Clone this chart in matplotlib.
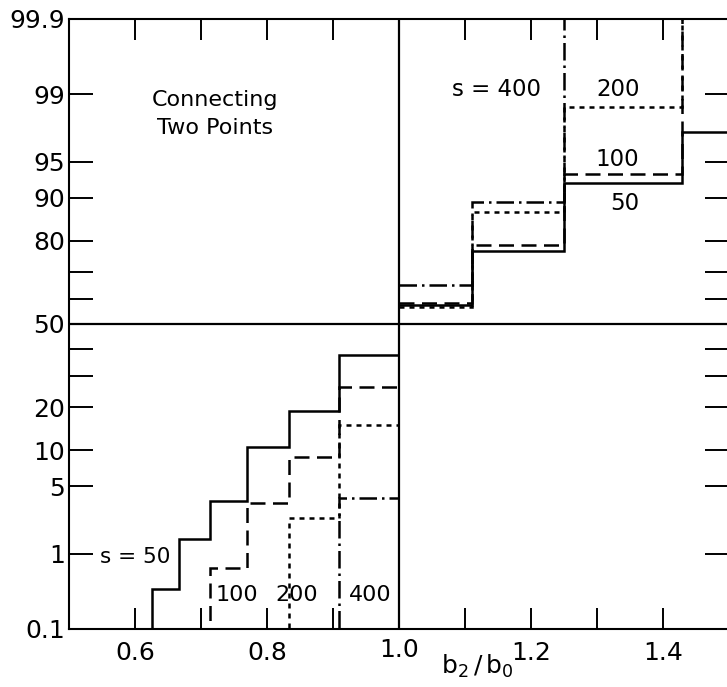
import math
import numpy as np
import matplotlib
matplotlib.use('Agg')
import matplotlib.pyplot as plt
from matplotlib.ticker import FixedLocator, FixedFormatter, NullLocator

plt.rcParams['font.family'] = ['DejaVu Sans']
plt.rcParams['mathtext.default'] = 'regular'

# bin edges in b2/b0 (below and above 1.0)
edges_lo = [0.5, 0.625, 0.667, 0.714, 0.769, 0.833, 0.909, 1.0]
edges_hi = [1.0, 1.111, 1.25, 1.429, 1.5]

# cumulative percentages (0.01 / 99.99 = off scale)
s50_lo = [0.01, 0.36, 1.47, 3.65, 10.6, 18.9, 37.7]
s100_lo = [0.01, 0.01, 0.01, 0.67, 3.5, 8.9, 26.1]
s200_lo = [0.01, 0.01, 0.01, 0.01, 0.01, 2.47, 15.3]
s400_lo = [0.01, 0.01, 0.01, 0.01, 0.01, 0.01, 3.9]

s50_hi = [57.5, 77.0, 92.3, 97.4]
s100_hi = [58.5, 78.8, 93.6, 99.99]
s200_hi = [56.8, 87.2, 98.6, 99.99]
s400_hi = [65.4, 89.2, 99.99, 99.99]

yticks = [0.1, 1, 5, 10, 20, 30, 40, 50, 60, 70, 80, 90, 95, 99, 99.9]
ylabels = ['0.1', '1', '5', '10', '20', '', '', '50', '', '', '80', '90', '95', '99', '99.9']
xticks = [0.6, 0.7, 0.8, 0.9, 1.1, 1.2, 1.3, 1.4]
xlabels = ['0.6', '', '0.8', '', '', '1.2', '', '1.4']

# normal probability scale
_erf = np.vectorize(math.erf, otypes=[float])

def from_z(z):
    z = np.asarray(z, float)
    return 50.0 * (1 + _erf(z / math.sqrt(2)))

def to_z(p):
    q = np.clip(np.asarray(p, float), 1e-7, 100 - 1e-7)
    lo = np.full_like(q, -8.0)
    hi = np.full_like(q, 8.0)
    for _ in range(55):
        mid = (lo + hi) / 2
        below = from_z(mid) < q
        lo = np.where(below, mid, lo)
        hi = np.where(below, hi, mid)
    return (lo + hi) / 2

fig = plt.figure(figsize=(7.27, 6.87), dpi=100)
ax = fig.add_axes([69/727, 1 - 629/687, 660/727, 610/687])
ax.set_yscale('function', functions=(to_z, from_z))
ax.set_xlim(0.5, 1.5)
ax.set_ylim(0.1, 99.9)

lw = 1.8
styles = {
    50: dict(linestyle='-'),
    100: dict(linestyle=(0, (6, 3))),
    200: dict(linestyle=(0, (2, 2))),
    400: dict(linestyle=(0, (7, 2, 1, 2))),
}
for s, lo, hi in [(50, s50_lo, s50_hi), (100, s100_lo, s100_hi),
                  (200, s200_lo, s200_hi), (400, s400_lo, s400_hi)]:
    ax.stairs(lo, edges_lo, baseline=None, color='black', lw=lw, **styles[s])
    ax.stairs(hi, edges_hi, baseline=None, color='black', lw=lw, **styles[s])

ax.axhline(50, color='black', lw=1.6)
ax.axvline(1.0, color='black', lw=1.6)

ax.yaxis.set_major_locator(FixedLocator(yticks))
ax.yaxis.set_major_formatter(FixedFormatter(ylabels))
ax.yaxis.set_minor_locator(NullLocator())
ax.xaxis.set_major_locator(FixedLocator(xticks))
ax.xaxis.set_major_formatter(FixedFormatter(xlabels))
ax.xaxis.set_minor_locator(NullLocator())
ax.tick_params(axis='y', direction='in', length=17, width=1.4, left=True, right=True,
               labelsize=18, pad=3)
ax.tick_params(axis='x', direction='in', length=15, width=1.4, top=True, bottom=True,
               labelsize=18, pad=9)
for sp in ax.spines.values():
    sp.set_linewidth(1.5)

# 1.0 label sits on the centre line, which has no tick
ax.text(0.5, -0.035, '1.0', transform=ax.transAxes, ha='center', va='center', fontsize=18)

ax.text(0.221, 0.845, 'Connecting\nTwo Points', transform=ax.transAxes,
        ha='center', va='center', fontsize=16, linespacing=1.5)
ax.text(0.648, 0.884, 's = 400', transform=ax.transAxes, ha='center', va='center', fontsize=16.5)
ax.text(0.832, 0.884, '200', transform=ax.transAxes, ha='center', va='center', fontsize=16.5)
ax.text(0.830, 0.769, '100', transform=ax.transAxes, ha='center', va='center', fontsize=16.5)
ax.text(0.842, 0.698, '50', transform=ax.transAxes, ha='center', va='center', fontsize=16.5)
ax.text(0.100, 0.118, 's = 50', transform=ax.transAxes, ha='center', va='center', fontsize=15.5)
ax.text(0.255, 0.056, '100', transform=ax.transAxes, ha='center', va='center', fontsize=16)
ax.text(0.345, 0.056, '200', transform=ax.transAxes, ha='center', va='center', fontsize=16)
ax.text(0.456, 0.056, '400', transform=ax.transAxes, ha='center', va='center', fontsize=16)

ax.text(0.618, -0.062, r'$b_2\,/\,b_0$', transform=ax.transAxes,
        ha='center', va='center', fontsize=18)

fig.savefig('out.png', dpi=100)
